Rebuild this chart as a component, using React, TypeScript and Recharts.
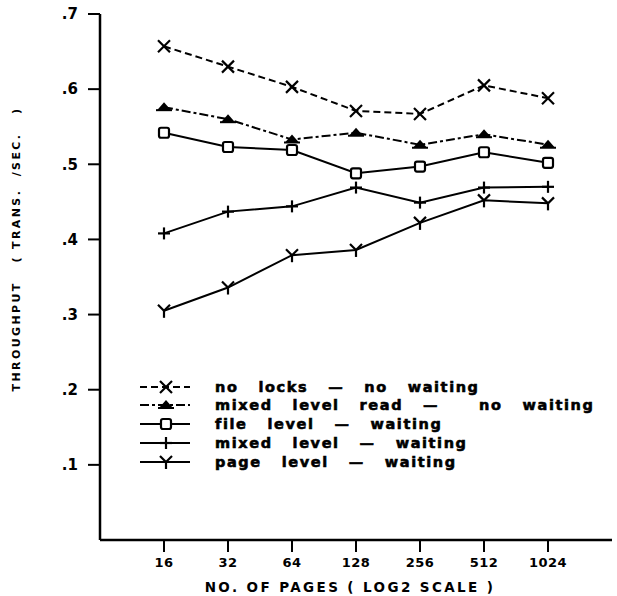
import React from "react";
import { LineChart, Line, XAxis, YAxis } from "recharts";

const pages = ["16", "32", "64", "128", "256", "512", "1024"];
const noLocks = [0.657, 0.63, 0.603, 0.571, 0.567, 0.605, 0.588];
const mixedRead = [0.576, 0.56, 0.533, 0.542, 0.526, 0.54, 0.526];
const fileLevel = [0.542, 0.523, 0.519, 0.488, 0.497, 0.516, 0.502];
const mixedWait = [0.408, 0.437, 0.444, 0.469, 0.449, 0.469, 0.47];
const pageLevel = [0.305, 0.336, 0.379, 0.386, 0.422, 0.452, 0.448];
const yTicks = [0.1, 0.2, 0.3, 0.4, 0.5, 0.6, 0.7];

const FONT = "'DejaVu Sans', sans-serif";

const series = [
  { key: "noLocks", label: "no   locks   —   no   waiting", shape: "x", dash: "7 4" },
  { key: "mixedRead", label: "mixed   level   read   —      no   waiting", shape: "tri", dash: "9 3 3 3" },
  { key: "fileLevel", label: "file   level   —   waiting", shape: "sq", dash: undefined },
  { key: "mixedWait", label: "mixed   level   —   waiting", shape: "plus", dash: undefined },
  { key: "pageLevel", label: "page   level   —   waiting", shape: "y", dash: undefined },
];
const legendRows = [10, 28, 47, 66, 85];

const data = pages.map((p, i) => ({
  i,
  noLocks: noLocks[i],
  mixedRead: mixedRead[i],
  fileLevel: fileLevel[i],
  mixedWait: mixedWait[i],
  pageLevel: pageLevel[i],
}));

const Marker = ({ shape, cx, cy }: { shape: string; cx: number; cy: number }) => {
  const s = { stroke: "#000", strokeWidth: 2.2, fill: "none" };
  if (shape === "x")
    return (
      <g {...s}>
        <line x1={cx - 6} y1={cy - 6} x2={cx + 6} y2={cy + 6} />
        <line x1={cx - 6} y1={cy + 6} x2={cx + 6} y2={cy - 6} />
      </g>
    );
  if (shape === "tri")
    return (
      <g>
        <path d={`M${cx - 7},${cy + 3} L${cx},${cy - 5} L${cx + 7},${cy + 3} Z`} fill="#000" />
        <line x1={cx - 8} y1={cy + 3} x2={cx + 8} y2={cy + 3} stroke="#000" strokeWidth={2} />
      </g>
    );
  if (shape === "sq")
    return <rect x={cx - 5} y={cy - 5} width={10} height={10} rx={2} {...s} fill="#fff" />;
  if (shape === "plus")
    return (
      <g {...s}>
        <line x1={cx - 6} y1={cy} x2={cx + 6} y2={cy} />
        <line x1={cx} y1={cy - 6} x2={cx} y2={cy + 6} />
      </g>
    );
  return (
    <g {...s}>
      <line x1={cx - 6} y1={cy - 6} x2={cx} y2={cy} />
      <line x1={cx + 6} y1={cy - 6} x2={cx} y2={cy} />
      <line x1={cx} y1={cy} x2={cx} y2={cy + 7} />
    </g>
  );
};

const ChartLegend = () => (
  <svg width={477} height={100} style={{ position: "absolute", left: 140, top: 377 }}>
    {series.map((s, i) => {
      const y = legendRows[i];
      return (
        <g key={s.key}>
          <line x1={0} y1={y} x2={50} y2={y} stroke="#000" strokeWidth={2} strokeDasharray={s.dash} />
          <Marker shape={s.shape} cx={26} cy={y} />
          <text
            x={75}
            y={y + 5}
            fontFamily={FONT}
            fontWeight="bold"
            fontSize={14.5}
            letterSpacing={1.6}
            stroke="#000"
            strokeWidth={0.6}
            style={{ whiteSpace: "pre" }}
          >
            {s.label}
          </text>
        </g>
      );
    })}
  </svg>
);

const YTitle = () => (
  <svg width={30} height={596} style={{ position: "absolute", left: 0, top: 0 }}>
    <text
      x={16}
      y={249}
      transform="rotate(-90, 16, 249)"
      textAnchor="middle"
      dominantBaseline="central"
      fontFamily={FONT}
      fontWeight="bold"
      fontSize={11}
      letterSpacing={2.4}
      style={{ whiteSpace: "pre" }}
    >
      THROUGHPUT   ( TRANS.  /SEC.   )
    </text>
  </svg>
);

export default function App() {
  return (
    <div style={{ position: "absolute", left: 0, top: 0, width: 617, height: 596, background: "#fff" }}>
      <LineChart width={617} height={596} data={data} margin={{ top: 14, right: 5, bottom: 8, left: 30 }}>
        <XAxis
          dataKey="i"
          type="number"
          domain={[-1, 7]}
          ticks={[0, 1, 2, 3, 4, 5, 6]}
          tickFormatter={(v: number) => pages[v]}
          axisLine={{ stroke: "#000", strokeWidth: 2.5 }}
          tickLine={{ stroke: "#000", strokeWidth: 2 }}
          tickSize={12}
          tickMargin={6}
          height={48}
          tick={{ fill: "#000", fontFamily: FONT, fontWeight: "bold", fontSize: 13, letterSpacing: 0.5 }}
          label={{
            value: "NO.  OF  PAGES  ( LOG2  SCALE )",
            position: "insideBottom",
            offset: -4,
            fill: "#000",
            fontFamily: FONT,
            fontWeight: "bold",
            fontSize: 13.5,
            letterSpacing: 2.4,
            dx: -6,
            style: { whiteSpace: "pre" },
          }}
        />
        <YAxis
          domain={[0, 0.7]}
          ticks={yTicks}
          tickFormatter={(v: number) => "." + Math.round(v * 10)}
          axisLine={{ stroke: "#000", strokeWidth: 2.5 }}
          tickLine={{ stroke: "#000", strokeWidth: 2 }}
          tickSize={12}
          tickMargin={10}
          width={70}
          tick={{ fill: "#000", fontFamily: FONT, fontWeight: "bold", fontSize: 15 }}
        />
        {series.map((s) => (
          <Line
            key={s.key}
            dataKey={s.key}
            stroke="#000"
            strokeWidth={2}
            strokeDasharray={s.dash}
            isAnimationActive={false}
            dot={(p: any) => <Marker key={`${s.key}-${p.index}`} shape={s.shape} cx={p.cx} cy={p.cy} />}
          />
        ))}
      </LineChart>
      <YTitle />
      <ChartLegend />
    </div>
  );
}
